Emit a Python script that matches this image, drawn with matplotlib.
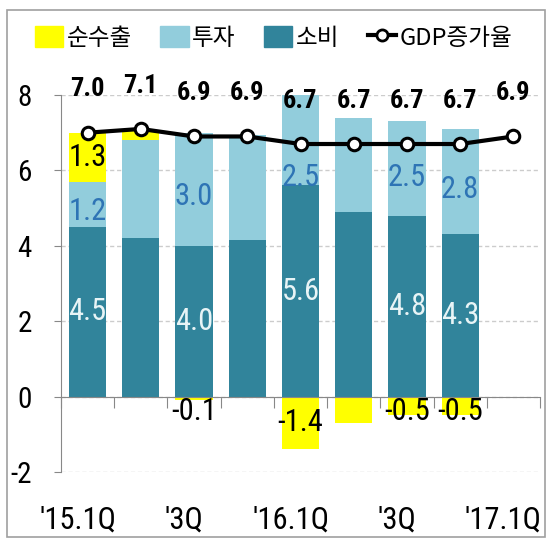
import numpy as np
import matplotlib
matplotlib.use("Agg")
import matplotlib.pyplot as plt
from matplotlib.patches import Patch, Rectangle
from matplotlib.lines import Line2D
from matplotlib.transforms import blended_transform_factory, ScaledTranslation
from matplotlib import font_manager

# data
quarters = ["'15.1Q", "2Q", "'3Q", "4Q", "'16.1Q", "2Q", "'3Q", "4Q", "'17.1Q"]
shown_ticks = [0, 2, 4, 6, 8]
consumption = [4.5, 4.2, 4.0, 4.15, 5.6, 4.9, 4.8, 4.3]
investment = [1.2, 2.6, 3.0, 2.8, 2.5, 2.5, 2.5, 2.8]
net_exports = [1.3, 0.25, -0.1, -0.05, -1.4, -0.7, -0.5, -0.5]
gdp_growth = [7.0, 7.1, 6.9, 6.9, 6.7, 6.7, 6.7, 6.7, 6.9]
labeled_bars = [0, 2, 4, 6, 7]

# pick a narrow font if one is around
names = {f.name for f in font_manager.fontManager.ttflist}
narrow = 'DejaVu Sans'
for cand in ['Liberation Sans Narrow', 'Roboto Condensed', 'Archivo Narrow', 'Barlow Semi Condensed']:
    if cand in names:
        narrow = cand
        break
plt.rcParams['font.family'] = [narrow, 'Noto Sans CJK KR', 'DejaVu Sans']

c_cons = '#31849B'
c_inv = '#92CDDC'
c_net = '#FFFF00'

fig = plt.figure(figsize=(5.47, 5.44), dpi=100)
ax = fig.add_axes([61 / 547, 72 / 544, 479 / 547, 377 / 544])

x = np.arange(len(consumption))
w = 0.7
cons = np.array(consumption)
inv = np.array(investment)
net = np.array(net_exports)

ax.bar(x, cons, w, color=c_cons, zorder=2)
ax.bar(x, inv, w, bottom=cons, color=c_inv, zorder=2)
net_bottom = np.where(net >= 0, cons + inv, 0)
ax.bar(x, net, w, bottom=net_bottom, color=c_net, zorder=2)

xg = np.arange(len(gdp_growth))
ax.plot(xg, gdp_growth, color='black', lw=3, marker='o', ms=9,
        mfc='white', mec='black', mew=2.2, zorder=4, clip_on=False)

for i, v in enumerate(gdp_growth):
    ax.text(i, v + 1.15, f'{v:.1f}', ha='center', va='center',
            fontsize=19, fontweight='bold', zorder=5, clip_on=False)

for i in labeled_bars:
    ax.text(i, cons[i] / 2, f'{cons[i]:.1f}', ha='center', va='center',
            fontsize=22, color='#E8F4F6', zorder=3)
    yi = min(cons[i] + inv[i] / 2, 6.0) - 0.2
    ax.text(i, yi, f'{inv[i]:.1f}', ha='center', va='center',
            fontsize=22, color='#2E74B5', zorder=3)
    if net[i] >= 0:
        yn = net_bottom[i] + net[i] / 2
    else:
        yn = min(net[i] / 2, -0.4)
    ax.text(i, yn, f'{net[i]:.1f}', ha='center', va='center',
            fontsize=22, color='black', zorder=3)

ax.set_xlim(-0.5, 8.5)
ax.set_ylim(-2, 8)
ax.set_yticks([-2, 0, 2, 4, 6, 8])
ax.set_yticklabels(['-2', '0', '2', '4', '6', '8'], fontsize=21)
ax.tick_params(axis='y', length=5, pad=16, color='#888888')
ax.set_xticks(np.arange(-0.5, 9, 1))
ax.tick_params(axis='x', length=8, labelbottom=False, color='#888888')

ax.spines['top'].set_visible(False)
ax.spines['right'].set_visible(False)
ax.spines['left'].set_color('#888888')
ax.spines['bottom'].set_color('#888888')
ax.spines['bottom'].set_position(('data', 0))
ax.set_axisbelow(True)
ax.grid(axis='y', color='#CCCCCC', ls=(0, (3, 2)), lw=1)

trans = blended_transform_factory(ax.transData, ax.transAxes)
shift = ScaledTranslation(-10 / 100, 0, fig.dpi_scale_trans)
for i in shown_ticks:
    ax.text(i, -0.127, quarters[i], transform=trans + shift,
            ha='center', va='center', fontsize=22)

handles = [Patch(color=c_net), Patch(color=c_inv), Patch(color=c_cons),
           Line2D([], [], color='black', lw=3, marker='o', ms=8, mfc='white', mec='black', mew=2)]
labels = ['순수출', '투자', '소비', 'GDP증가율']
fig.legend(handles, labels, loc='center', bbox_to_anchor=(0.5, 1 - 38 / 544), ncol=4,
           frameon=False, prop={'family': ['Noto Sans CJK KR', 'DejaVu Sans'], 'size': 17},
           handlelength=1.2, handleheight=1.0, handletextpad=0.15, columnspacing=1.2)

fig.patches.append(Rectangle((7 / 547, 7 / 544), 538 / 547, 527 / 544, fill=False,
                             edgecolor='#A0A0A0', lw=1.2, transform=fig.transFigure))

fig.savefig('out.png', dpi=100)
